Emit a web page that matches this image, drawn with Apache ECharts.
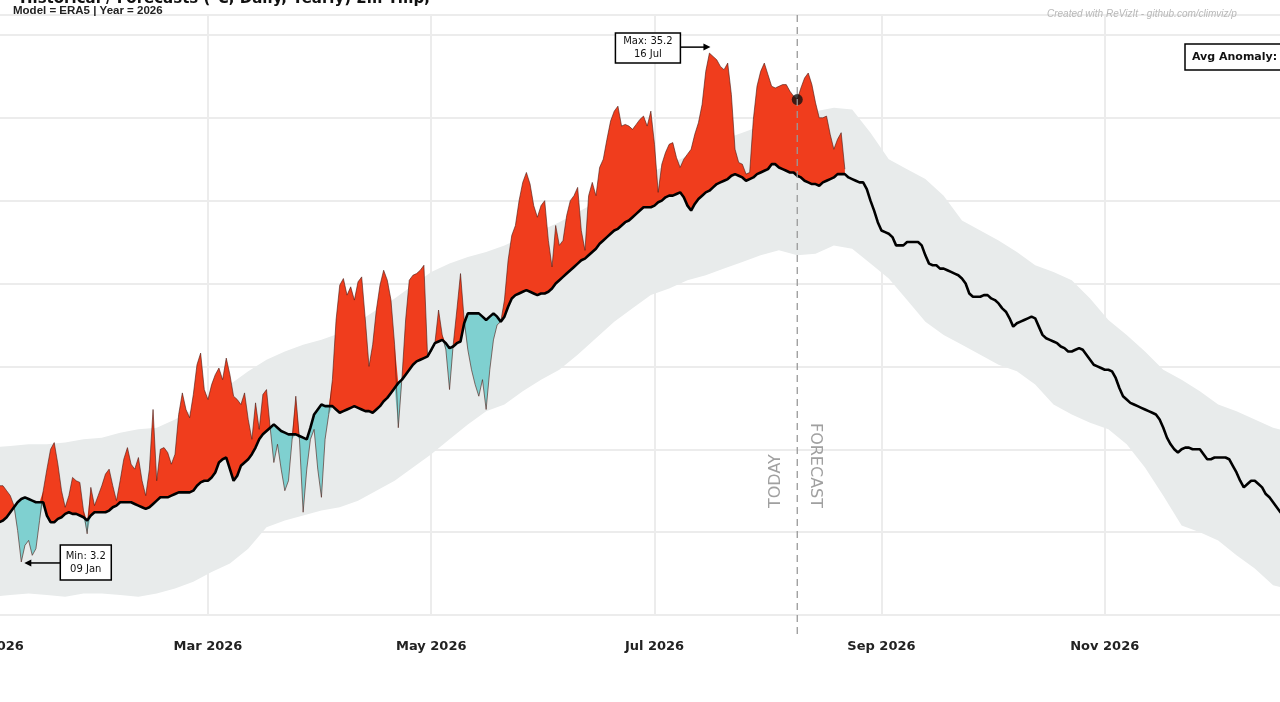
<!DOCTYPE html>
<html>
<head>
<meta charset="utf-8">
<script src="https://cdn.jsdelivr.net/npm/echarts@6/dist/echarts.min.js"></script>
<style>
html,body{margin:0;padding:0;background:#fff;}
#main{width:1280px;height:702px;}
</style>
</head>
<body>
<div id="main"></div>
<script>
// ---------- DATA ----------
const YEAR = 2026;
const MONTHS = ['Jan','Feb','Mar','Apr','May','Jun','Jul','Aug','Sep','Oct','Nov','Dec'];

// daily climatological mean (°C), day 0 = 1 Jan
const meanValues = [
  5.5,5.6,5.6,5.7,5.9,6.2,6.5,6.8,7.0,7.1,
  7.0,6.9,6.8,6.8,6.8,6.0,5.6,5.6,5.8,5.9,
  6.1,6.2,6.1,6.1,6.0,5.9,5.7,6.0,6.2,6.2,
  6.2,6.2,6.3,6.5,6.6,6.8,6.8,6.8,6.8,6.7,
  6.6,6.5,6.4,6.5,6.7,6.9,7.1,7.1,7.1,7.2,
  7.3,7.4,7.4,7.4,7.4,7.5,7.8,8.0,8.1,8.1,
  8.3,8.6,9.2,9.4,9.5,8.8,8.1,8.4,9.0,9.2,
  9.4,9.7,10.1,10.6,10.9,11.1,11.3,11.5,11.3,11.1,
  11.0,10.9,10.9,10.9,10.8,10.7,10.6,11.3,12.1,12.4,
  12.7,12.6,12.6,12.6,12.4,12.2,12.3,12.4,12.5,12.6,
  12.5,12.4,12.3,12.3,12.2,12.4,12.6,12.9,13.1,13.4,
  13.7,14.0,14.2,14.5,14.8,15.1,15.3,15.4,15.5,15.6,
  16.0,16.4,16.5,16.6,16.4,16.1,16.2,16.4,16.5,17.6,
  18.2,18.2,18.2,18.2,18.0,17.8,18.0,18.2,18.0,17.7,
  18.0,18.6,19.1,19.3,19.4,19.5,19.6,19.5,19.4,19.3,
  19.4,19.4,19.5,19.7,20.0,20.2,20.4,20.6,20.8,21.0,
  21.2,21.4,21.5,21.7,21.9,22.1,22.4,22.6,22.8,23.0,
  23.2,23.3,23.5,23.7,23.8,24.0,24.2,24.4,24.6,24.6,
  24.6,24.7,24.9,25.0,25.2,25.3,25.3,25.4,25.5,25.2,
  24.7,24.4,24.8,25.1,25.3,25.5,25.6,25.8,26.0,26.1,
  26.2,26.3,26.5,26.6,26.5,26.4,26.2,26.3,26.4,26.6,
  26.7,26.8,26.9,27.2,27.2,27.0,26.9,26.8,26.7,26.7,
  26.5,26.4,26.2,26.1,26.0,26.0,25.9,26.1,26.2,26.3,
  26.4,26.6,26.6,26.6,26.4,26.3,26.2,26.1,26.1,25.7,
  25.0,24.4,23.7,23.2,23.1,23.0,22.8,22.3,22.3,22.3,
  22.5,22.5,22.5,22.5,22.3,21.7,21.2,21.1,21.1,20.9,
  20.9,20.8,20.7,20.6,20.5,20.3,20.0,19.4,19.2,19.2,
  19.2,19.3,19.3,19.1,19.0,18.8,18.5,18.3,17.9,17.4,
  17.6,17.7,17.8,17.9,18.0,17.9,17.4,16.9,16.7,16.6,
  16.5,16.4,16.2,16.1,15.9,15.9,16.0,16.1,16.0,15.7,
  15.4,15.1,15.0,14.9,14.8,14.8,14.7,14.3,13.7,13.2,
  13.0,12.8,12.7,12.6,12.5,12.4,12.3,12.2,12.1,11.8,
  11.3,10.7,10.3,10.0,9.8,10.0,10.1,10.1,10.0,10.0,
  10.0,9.7,9.4,9.4,9.5,9.5,9.5,9.5,9.4,9.0,
  8.6,8.1,7.7,7.9,8.1,8.1,7.9,7.7,7.3,7.1,
  6.8,6.5,6.2,6.0
];

// daily 2026 values (observed + forecast), day 0 = 1 Jan
const obsValues = [
  7.2,7.7,7.8,7.8,7.5,7.2,6.6,5.1,3.2,4.2,
  4.5,3.6,4.0,5.7,7.5,8.8,10.0,10.4,9.1,7.5,
  6.5,7.2,8.3,8.1,8.0,6.3,4.9,7.7,6.6,7.2,
  7.8,8.5,8.8,7.8,6.9,8.1,9.4,10.1,9.1,8.8,
  9.5,8.1,7.2,8.8,12.4,8.1,10.0,10.1,9.8,9.1,
  9.7,12.1,13.4,12.4,11.9,13.3,15.1,15.8,13.6,13.0,
  13.9,14.5,14.9,14.2,15.5,14.5,13.2,13.0,12.7,13.4,
  11.8,10.6,12.8,11.2,13.3,13.6,11.3,9.2,10.3,8.8,
  7.5,8.1,10.6,13.2,10.6,6.2,8.8,10.6,11.2,8.8,
  7.1,10.6,12.1,14.2,17.8,19.9,20.3,19.3,19.8,19.0,
  20.1,20.4,17.8,15.0,16.3,18.4,19.9,20.8,20.2,19.0,
  16.3,11.3,14.3,17.8,20.2,20.5,20.6,20.8,21.1,15.6,
  15.9,16.4,18.4,16.9,16.0,13.6,16.3,18.4,20.6,17.8,
  16.0,14.8,13.9,13.2,14.2,12.4,14.8,16.6,17.5,17.7,
  19.0,21.4,22.9,23.5,25.0,26.1,26.7,26.0,24.7,24.0,
  24.7,25.0,22.6,21.0,23.5,22.3,22.6,24.1,25.0,25.3,
  25.8,23.2,22.0,25.3,26.1,25.3,27.0,27.5,28.7,29.8,
  30.4,30.7,29.5,29.6,29.5,29.3,29.6,29.9,30.1,29.5,
  30.4,28.4,25.5,27.2,27.9,28.4,28.5,27.6,27.0,27.5,
  27.8,28.1,29.0,29.7,30.8,32.8,33.9,33.7,33.5,33.1,
  32.9,33.3,31.4,28.1,27.3,27.2,26.6,26.7,29.9,31.9,
  32.8,33.3,32.6,31.9,31.8,31.9,32.0,32.0,31.6,31.3,
  31.1,31.8,32.4,32.7,32.0,30.9,30.0,30.0,30.1,29.0,
  28.1,28.7,29.1,26.9
];

// climatological range, one value every BAND_STEP days from 1 Jan
const BAND_STEP = 5;
const bandUpper = [
  10.1,10.2,10.3,10.3,10.4,10.6,10.7,11.0,11.2,11.3,
  11.8,12.4,13.1,13.9,14.7,15.4,15.9,16.3,16.6,17.0,
  17.7,18.4,19.1,19.9,20.7,21.2,21.6,21.9,22.3,22.8,
  23.2,23.7,24.3,24.9,25.5,26.1,26.7,27.2,27.7,28.2,
  28.7,29.1,29.5,29.9,30.2,30.4,30.6,30.5,29.1,27.5,
  26.9,26.3,25.3,23.8,23.2,22.6,21.9,21.1,20.7,20.2,
  19.1,17.8,16.9,15.9,14.8,14.2,13.5,12.7,12.3,11.8,
  11.3,11.0
];
const bandLower = [
  1.1,1.2,1.3,1.2,1.1,1.3,1.3,1.2,1.1,1.3,
  1.6,2.0,2.6,3.1,4.0,5.3,5.7,6.0,6.3,6.5,
  6.9,7.5,8.1,8.9,9.7,10.6,11.5,12.3,12.7,13.5,
  14.2,14.8,15.7,16.7,17.7,18.5,19.3,19.7,20.2,20.5,
  20.9,21.3,21.7,22.0,21.7,21.8,22.3,22.1,21.2,20.3,
  19.0,17.7,16.9,16.3,15.7,15.1,14.7,13.9,12.7,12.1,
  11.6,11.2,10.3,8.9,7.2,5.4,5.0,4.5,3.6,2.8,
  1.8,1.5
];

const TODAY_DAY = 220;          // 9 Aug
const MAX_DAY = 196, MIN_DAY = 8;
const MAX_LABEL = ['Max: 35.2', '16 Jul'];
const MIN_LABEL = ['Min: 3.2', '09 Jan'];
const TITLE = 'Historical / Forecasts (°C, Daily, Yearly) 2m Tmp,';
const SUBTITLE = 'Model = ERA5 | Year = 2026';
const CREDIT = 'Created with ReVizIt - github.com/climviz/p';
const LEGEND_TEXT = 'Avg Anomaly: +2.4°C';

// ---------- BUILD ----------
const T = d => new Date(YEAR, 0, 1 + d).getTime();
const meanData = meanValues.map((v, i) => [T(i), v]);
const obsData = obsValues.map((v, i) => [T(i), v]);
const baseData = obsValues.map((v, i) => [T(i), Math.min(v, meanValues[i])]);
const coldData = obsValues.map((v, i) => [T(i), Math.max(meanValues[i] - v, 0)]);
const warmData = obsValues.map((v, i) => [T(i), Math.max(v - meanValues[i], 0)]);
const bandLowData = bandLower.map((v, i) => [T(i * BAND_STEP), v]);
const bandSpanData = bandUpper.map((v, i) => [T(i * BAND_STEP), +(v - bandLower[i]).toFixed(2)]);

const hidden = { width: 0, opacity: 0 };
const common = { type: 'line', symbol: 'none', showSymbol: false, silent: true, emphasis: { disabled: true }, animation: false };

const chart = echarts.init(document.getElementById('main'), null, { renderer: 'canvas' });
const option = {
  animation: false,
  backgroundColor: '#ffffff',
  grid: { left: -8, right: -48, top: 15, bottom: 87, containLabel: false, outerBoundsMode: 'none' },
  xAxis: {
    type: 'time',
    min: T(0), max: T(365),
    splitNumber: 5,
    axisLine: { show: false }, axisTick: { show: false },
    splitLine: { show: true, lineStyle: { color: '#ececec', width: 2 } },
    axisLabel: {
      margin: 25, color: '#222', fontSize: 13, fontWeight: 'bold', fontFamily: 'DejaVu Sans',
      formatter: v => { const d = new Date(v); return MONTHS[d.getMonth()] + ' ' + d.getFullYear(); }
    }
  },
  yAxis: {
    type: 'value', min: 0, max: 36.2, interval: 5,
    axisLine: { show: false }, axisTick: { show: false }, axisLabel: { show: false },
    splitLine: { show: true, lineStyle: { color: '#ececec', width: 2 } }
  },
  series: [
    { ...common, name: 'bandLow', data: bandLowData, stack: 'band', lineStyle: hidden, z: 1 },
    { ...common, name: 'band', data: bandSpanData, stack: 'band', lineStyle: hidden,
      areaStyle: { color: '#e8ebeb', opacity: 1 }, z: 1 },
    { ...common, name: 'base', data: baseData, stack: 'fill', lineStyle: hidden, z: 2 },
    { ...common, name: 'below', data: coldData, stack: 'fill', lineStyle: hidden,
      areaStyle: { color: '#7fd0d0', opacity: 1 }, z: 2 },
    { ...common, name: 'above', data: warmData, stack: 'fill', lineStyle: hidden,
      areaStyle: { color: '#f03d1d', opacity: 1 }, z: 2 },
    { ...common, name: 'obs', data: obsData, lineStyle: { color: '#4a1a12', width: 0.8, opacity: 0.75 }, z: 3 },
    { ...common, name: 'mean', data: meanData, lineStyle: { color: '#000', width: 2.6 }, z: 4 },
    { type: 'scatter', name: 'today', data: [[T(TODAY_DAY), obsValues[TODAY_DAY]]], symbolSize: 11,
      itemStyle: { color: '#111' }, silent: true, z: 6, animation: false }
  ]
};
chart.setOption(option);

// ---------- ANNOTATIONS (positions from the chart's own scales) ----------
const px = (d, v) => chart.convertToPixel({ gridIndex: 0 }, [T(d), v]);
const tX = px(TODAY_DAY, 0)[0];
const lineTop = px(TODAY_DAY, 36.2)[1];
const lineBot = px(TODAY_DAY, -1.2)[1];
const pMax = px(MAX_DAY, obsValues[MAX_DAY]);
const pMin = px(MIN_DAY, obsValues[MIN_DAY]);
const boxFont = '10px DejaVu Sans';

function noteBox(x, y, w, h, lines) {
  return {
    type: 'group', x: x, y: y,
    children: [
      { type: 'rect', z: 100, shape: { x: 0, y: 0, width: w, height: h }, style: { fill: '#fff', stroke: '#000', lineWidth: 1.5 } },
      { type: 'text', z: 101, x: w / 2, y: h / 2, style: { text: lines.join('\n'), font: boxFont, fill: '#111', align: 'center', verticalAlign: 'middle', lineHeight: 13 } }
    ]
  };
}
function arrow(x1, y, x2) {
  const dir = x2 > x1 ? 1 : -1;
  return [
    { type: 'line', z: 100, shape: { x1: x1, y1: y, x2: x2 - dir * 5, y2: y }, style: { stroke: '#000', lineWidth: 1.5 } },
    { type: 'polygon', z: 100, shape: { points: [[x2, y], [x2 - dir * 7, y - 3.5], [x2 - dir * 7, y + 3.5]] }, style: { fill: '#000' } }
  ];
}

const graphics = [
  { type: 'line', z: 50, shape: { x1: tX, y1: lineTop, x2: tX, y2: lineBot }, style: { stroke: '#9a9a9a', lineWidth: 1.3, lineDash: [7, 5] } },
  { type: 'text', z: 50, x: tX - 21, y: 508, rotation: Math.PI / 2,
    style: { text: 'TODAY', font: '16px DejaVu Sans', fill: '#a0a0a0', align: 'left', verticalAlign: 'middle' } },
  { type: 'text', z: 50, x: tX + 18, y: 508, rotation: -Math.PI / 2,
    style: { text: 'FORECAST', font: '16px DejaVu Sans', fill: '#a0a0a0', align: 'right', verticalAlign: 'middle' } },
  noteBox(pMax[0] - 94, pMax[1] - 20, 65, 30, MAX_LABEL),
  ...arrow(pMax[0] - 29, pMax[1] - 6, pMax[0] + 1),
  noteBox(pMin[0] + 39, pMin[1] - 17, 51, 35, MIN_LABEL),
  ...arrow(pMin[0] + 39, pMin[1] + 1, pMin[0] + 3),
  { type: 'text', z: 100, x: 20, y: -8, style: { text: TITLE, font: 'bold 15px DejaVu Sans', fill: '#111', align: 'left', verticalAlign: 'top' } },
  { type: 'text', z: 100, x: 13, y: 5, style: { text: SUBTITLE, font: 'bold 11.5px Liberation Sans', fill: '#222', align: 'left', verticalAlign: 'top' } },
  { type: 'text', z: 100, x: 1047, y: 14, style: { text: CREDIT, font: 'italic 10px Liberation Sans', fill: '#b8b8b8', align: 'left', verticalAlign: 'middle' } },
  { type: 'group', x: 1185, y: 44, children: [
    { type: 'rect', z: 100, shape: { x: 0, y: 0, width: 140, height: 26 }, style: { fill: '#fff', stroke: '#000', lineWidth: 1.5 } },
    { type: 'text', z: 101, x: 7, y: 13, style: { text: LEGEND_TEXT, font: 'bold 11px DejaVu Sans', fill: '#111', align: 'left', verticalAlign: 'middle' } }
  ]}
];
chart.setOption({ graphic: graphics });
</script>
</body>
</html>
